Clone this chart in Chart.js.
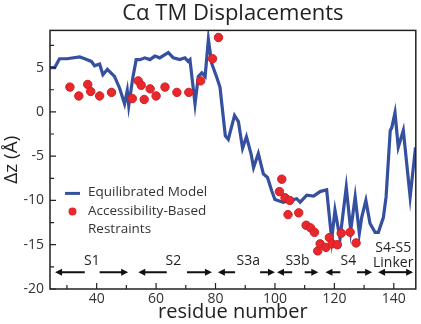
<!DOCTYPE html>
<html>
<head>
<meta charset="utf-8">
<script src="https://cdn.jsdelivr.net/npm/chart.js@4.4.1/dist/chart.umd.min.js"></script>
<style>
  html, body { margin: 0; padding: 0; background: #fff; }
  #wrap { width: 421px; height: 324px; }
</style>
</head>
<body>
<div id="wrap"><canvas id="chart" width="421" height="324"></canvas></div>
<script>
// equilibrated model: residue number / displacement (Å)
const modelResidue = [24.3, 25.9, 27.5, 30, 34.3, 36, 38.2, 39.3, 41, 42.1, 43.6, 46, 47.7, 49.4, 50.3, 50.8, 52.2, 53.3,
  54.6, 56.2, 57.9, 59.6, 61.2, 64.1, 65.8, 68, 69.7, 70.8, 71.4, 73.1, 74.2, 75.4, 76.5, 77.6, 78.7, 80.4, 81.5,
  83.3, 84.3, 86.4, 87.7, 89.1, 90.4, 92, 92.8, 94.4, 96.1, 97.5, 98.9, 100, 102.8, 105, 107.3, 108.5, 110.7, 113,
  115.2, 117.4, 119.1, 120.2, 121.9, 124, 125.5, 127, 128.4, 129.2, 130.6, 132, 133.7, 134.8, 136.5, 137.4, 138.8,
  139.3, 140.4, 141.5, 143.2, 145.5, 147.3];
const modelDz = [5.0, 5.0, 6.0, 6.0, 6.2, 6.0, 5.7, 5.2, 5.4, 4.2, 4.8, 4.0, 2.7, 0.9, 2.4, 0.7, 3.9, 5.9,
  5.9, 6.1, 5.9, 6.3, 6.1, 6.7, 6.1, 5.9, 6.1, 5.7, 5.9, 0.9, 4.0, 4.4, 4.0, 8.2, 5.5, 3.9, 2.8,
  -2.7, -3.1, -0.4, -1.1, -4.1, -2.8, -4.8, -6.3, -4.7, -7.0, -7.4, -8.9, -9.9, -10.2, -10.0, -9.8, -10.2, -9.4, -9.5,
  -9.0, -8.8, -14.4, -11.1, -14.3, -8.5, -13.4, -9.6, -13.7, -11.9, -10.0, -12.6, -13.6, -13.6, -11.9, -9.6, -2.1,
  -1.8, -0.1, -4.0, -2.1, -9.6, -4.0];

// accessibility-based restraints
const restraintResidue = [31, 34, 37, 38, 41, 45, 52, 54, 55, 56, 58, 60, 63, 67, 71, 75, 79, 81,
  101.5, 102.3, 103.4, 104.4, 105, 108, 110.5, 112, 113.3, 114.4, 115.2, 117.2, 118.3, 119.3, 121, 122.3, 125.3, 127.3];
const restraintDz = [2.8, 1.8, 3.1, 2.3, 1.8, 2.2, 1.5, 3.5, 3.0, 1.4, 2.6, 1.8, 2.8, 2.2, 2.2, 3.5, 6.0, 8.4,
  -9.0, -7.6, -9.7, -11.6, -10.0, -11.4, -12.8, -13.1, -13.6, -15.7, -14.9, -15.3, -14.2, -14.9, -15.0, -13.7, -13.6, -14.8];

// segment annotations (arrow spans, gap under the label, label position)
const segLabels = ['S1', 'S2', 'S3a', 'S3b', 'S4', 'S4-S5|Linker'];
const segStart = [26, 54, 80.8, 100.7, 117, 134.7];
const segGapStart = [36, 63.6, 86.6, 105.8, 122, null];
const segGapEnd = [41, 70.4, 95, 110, 127.6, null];
const segEnd = [50.6, 78.8, 100, 114.6, 132.7, 146.5];
const segLabelX = [38.4, 65.8, 91, 107.6, 124.7, 139.8];

const xTicks = [40, 60, 80, 100, 120, 140];
const xMinor = [30, 50, 70, 90, 110, 130];
const yTicks = [-20, -15, -10, -5, 0, 5];
const yMinor = [-17.5, -12.5, -7.5, -2.5, 2.5, 7.5];

const BLUE = '#34509f';
const RED = '#e8282c';
const FONT = '"Open Sans", "DejaVu Sans", sans-serif';

function arrowHead(ctx, x, y, dir) {
    ctx.beginPath();
    ctx.moveTo(x, y);
    ctx.lineTo(x - dir * 7, y - 3.5);
    ctx.lineTo(x - dir * 7, y + 3.5);
    ctx.closePath();
    ctx.fill();
}

const decorPlugin = {
    id: 'decor',
    afterDraw(chart) {
        const ctx = chart.ctx;
        const a = chart.chartArea;
        const xs = chart.scales.x;
        const ys = chart.scales.y;
        ctx.save();

        // box
        ctx.strokeStyle = '#222';
        ctx.lineWidth = 1.5;
        ctx.strokeRect(a.left, a.top, a.right - a.left, a.bottom - a.top);

        // inward ticks
        ctx.lineWidth = 1.2;
        ctx.beginPath();
        xTicks.forEach(v => { const px = xs.getPixelForValue(v); ctx.moveTo(px, a.bottom); ctx.lineTo(px, a.bottom - 6); });
        xMinor.forEach(v => { const px = xs.getPixelForValue(v); ctx.moveTo(px, a.bottom); ctx.lineTo(px, a.bottom - 4); });
        yTicks.forEach(v => { const py = ys.getPixelForValue(v); ctx.moveTo(a.left, py); ctx.lineTo(a.left + 6, py); });
        yMinor.forEach(v => { const py = ys.getPixelForValue(v); ctx.moveTo(a.left, py); ctx.lineTo(a.left + 4, py); });
        ctx.stroke();

        // segment arrows
        const ay = ys.getPixelForValue(-18.1);
        ctx.strokeStyle = '#111';
        ctx.fillStyle = '#111';
        ctx.lineWidth = 2;
        segLabels.forEach((lab, i) => {
            const x0 = xs.getPixelForValue(segStart[i]);
            const x1 = xs.getPixelForValue(segEnd[i]);
            ctx.beginPath();
            if (segGapStart[i] !== null) {
                const g0 = xs.getPixelForValue(segGapStart[i]);
                const g1 = xs.getPixelForValue(segGapEnd[i]);
                ctx.moveTo(x0 + 4, ay); ctx.lineTo(g0, ay);
                ctx.moveTo(g1, ay); ctx.lineTo(x1 - 4, ay);
            } else {
                ctx.moveTo(x0 + 4, ay); ctx.lineTo(x1 - 4, ay);
            }
            ctx.stroke();
            arrowHead(ctx, x0, ay, -1);
            arrowHead(ctx, x1, ay, 1);

            ctx.fillStyle = '#222';
            ctx.font = '14px ' + FONT;
            ctx.textAlign = 'center';
            ctx.textBaseline = 'middle';
            const lx = xs.getPixelForValue(segLabelX[i]);
            const parts = lab.split('|');
            if (parts.length === 1) {
                ctx.fillText(parts[0], lx, ay - 11);
            } else {
                ctx.fillText(parts[0], lx, ay - 24);
                ctx.fillText(parts[1], lx, ay - 9);
            }
            ctx.fillStyle = '#111';
        });

        // legend
        const lx = a.left + 15;
        ctx.strokeStyle = BLUE;
        ctx.lineWidth = 3;
        ctx.beginPath();
        ctx.moveTo(lx, a.top + 163);
        ctx.lineTo(lx + 15, a.top + 163);
        ctx.stroke();
        ctx.fillStyle = RED;
        ctx.beginPath();
        ctx.arc(lx + 7.5, a.top + 181, 4, 0, Math.PI * 2);
        ctx.fill();
        ctx.fillStyle = '#333';
        ctx.font = '13.5px ' + FONT;
        ctx.textAlign = 'left';
        ctx.textBaseline = 'middle';
        ctx.fillText('Equilibrated Model', lx + 23, a.top + 162);
        ctx.fillText('Accessibility-Based', lx + 23, a.top + 181);
        ctx.fillText('Restraints', lx + 23, a.top + 199);
        ctx.restore();
    }
};

new Chart(document.getElementById('chart'), {
    type: 'scatter',
    data: {
        datasets: [{
            label: 'Accessibility-Based Restraints',
            data: restraintResidue.map((r, i) => ({ x: r, y: restraintDz[i] })),
            backgroundColor: RED,
            borderColor: '#d01d22',
            borderWidth: 1,
            pointRadius: 4.2
        }, {
            label: 'Equilibrated Model',
            data: modelResidue.map((r, i) => ({ x: r, y: modelDz[i] })),
            showLine: true,
            borderColor: BLUE,
            borderWidth: 3.2,
            pointRadius: 0,
            tension: 0
        }]
    },
    options: {
        responsive: false,
        animation: false,
        layout: { padding: { left: 0, right: 4, top: 0, bottom: 0 } },
        plugins: {
            legend: { display: false },
            tooltip: { enabled: false },
            title: {
                display: true,
                text: 'C\u03b1 TM Displacements',
                fullSize: false,
                color: '#222',
                font: { family: FONT, size: 22, weight: 'normal', lineHeight: 1.2 },
                padding: { top: 1, bottom: 3 }
            }
        },
        scales: {
            x: {
                type: 'linear',
                min: 24.3,
                max: 147.4,
                afterBuildTicks: s => { s.ticks = xTicks.map(v => ({ value: v })); },
                afterFit: s => { s.height = 35; },
                grid: { display: false, drawTicks: false },
                border: { display: false },
                ticks: { color: '#333', font: { family: FONT, size: 14 }, padding: 2 },
                title: {
                    display: true,
                    text: 'residue number',
                    color: '#222',
                    font: { family: FONT, size: 20 },
                    padding: { top: 0, bottom: 0 }
                }
            },
            y: {
                type: 'linear',
                min: -20,
                max: 9.2,
                afterBuildTicks: s => { s.ticks = yTicks.map(v => ({ value: v })); },
                afterFit: s => { s.width = 50; },
                grid: { display: false, drawTicks: false },
                border: { display: false },
                ticks: { color: '#333', font: { family: FONT, size: 14 }, padding: 6 },
                title: {
                    display: true,
                    text: '\u0394z (\u00c5)',
                    color: '#222',
                    font: { family: FONT, size: 19 },
                    padding: { top: 0, bottom: 2 }
                }
            }
        }
    },
    plugins: [decorPlugin]
});
</script>
</body>
</html>
